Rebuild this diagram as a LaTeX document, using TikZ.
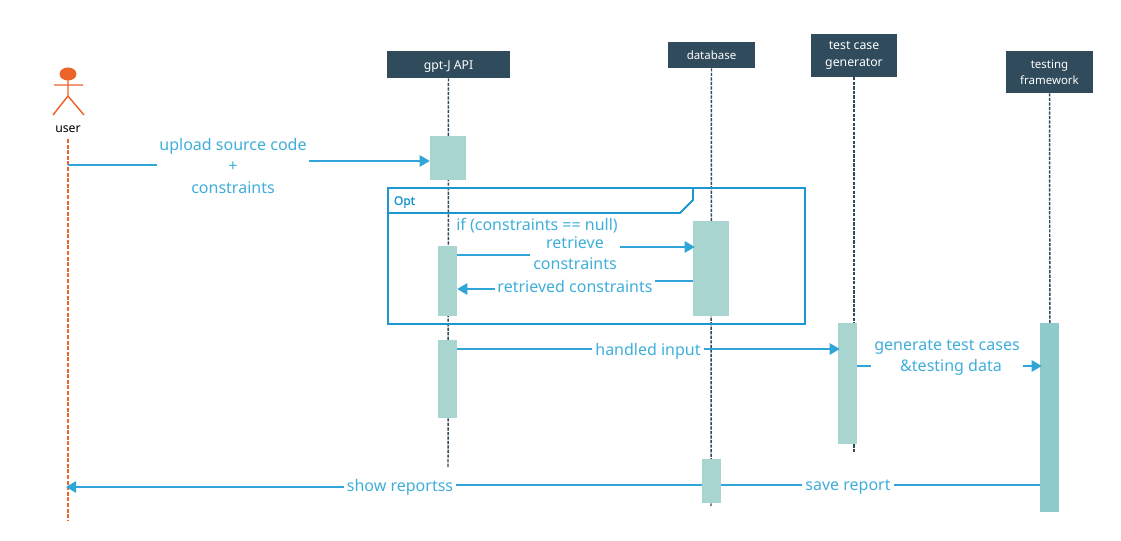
\documentclass[tikz,border=0pt]{standalone}
\usepackage{fontspec}
\setmainfont{Noto Sans}
\newfontfamily\optfont[FakeBold=1.3]{Noto Sans}
\usetikzlibrary{arrows.meta}
\definecolor{headblue}{HTML}{2F4B5C}
\definecolor{barteal}{HTML}{A8D5CF}
\definecolor{bardark}{HTML}{8FCBCB}
\definecolor{msgblue}{HTML}{2FA5D8}
\definecolor{txtblue}{HTML}{3FAEDA}
\definecolor{framblue}{HTML}{1C96CE}
\definecolor{useror}{HTML}{EC6429}
\def\px{0.75pt}
\tikzset{
  head/.style = {fill=headblue, text=white, font=\fontsize{9.2}{12.5}\selectfont, align=center, inner sep=0pt},
  life/.style = {headblue, line width=1.1pt, dash pattern=on 2.4pt off 1pt},
  actbar/.style = {fill=barteal, inner sep=0pt, minimum width=19*\px},
  msg/.style = {msgblue, line width=1.2pt},
  msgto/.style = {msg, -{Triangle[length=7.5pt, width=8.5pt]}},
  lab/.style = {text=txtblue, font=\fontsize{12}{16.1}\selectfont, align=center, inner sep=2pt}
}
\begin{document}
\begin{tikzpicture}[x=\px, y=-\px]
\useasboundingbox (0,0) rectangle (1121,541);
% header boxes
\node[head, minimum width=123*\px, minimum height=27*\px, text depth=0pt] (gptapi) at (448.5,64.5) {\raisebox{-0.7pt}{gpt-J API}};
\node[head, minimum width=87*\px, minimum height=26*\px, font=\fontsize{8.6}{12}\selectfont] (database) at (711.5,55) {\raisebox{-0.7pt}{database}};
\node[head, minimum width=86*\px, minimum height=43*\px] (tcgen) at (854,55.5) {test case\\generator};
\node[head, minimum width=87*\px, minimum height=42*\px, font=\fontsize{8.6}{12}\selectfont] (tframe) at (1049.5,72) {testing\\framework};
\coordinate (gptend) at (448,468);
\coordinate (dbend) at (711,506);
\coordinate (tcend) at (854,452);
\coordinate (tfend) at (1050,400);
% lifelines
\draw[life] (gptapi) -- (gptend);
\draw[life] (database) -- (dbend);
\draw[life] (tcgen) -- (tcend);
\draw[life] (tframe) -- (tfend);
% activation bars
\node[actbar, minimum width=36*\px, minimum height=44*\px] (gptbarA) at (448,158) {};
\node[actbar, minimum height=70*\px] (gptbarB) at (447.5,281) {};
\node[actbar, minimum height=78*\px] (gptbarC) at (447.5,379) {};
\node[actbar, minimum width=36*\px, minimum height=95*\px] (dbbarA) at (711,268.5) {};
\node[actbar, minimum height=44*\px] (dbbarB) at (711.5,481) {};
\node[actbar, minimum height=121*\px] (tcbar) at (847.5,383.5) {};
\node[actbar, fill=bardark, minimum height=189*\px] (tfbar) at (1049.5,417.5) {};
% user
\draw[useror, line width=1.1pt] (54,85) -- (83,85) (68,80) -- (68,96) (53,115) -- (68,96) -- (84,115);
\fill[useror] (68,74) ellipse [x radius=8.5, y radius=6.5];
\node[font=\fontsize{9.2}{12}\selectfont, inner sep=0pt] (user) at (68,129) {user};
\coordinate (userend) at (68,520);
\draw[useror, line width=1.1pt, dash pattern=on 3pt off 1.2pt] (user.south |- 0,139) -- (userend);
% opt frame
\node[draw=framblue, line width=1.4pt, minimum width=417*\px, minimum height=136*\px, inner sep=0pt] (optframe) at (596.5,256) {};
\node[text=framblue, font=\optfont\fontsize{9}{11}\selectfont, inner sep=0pt] (optlab) at (404.5,202) {Opt};
\draw[framblue, line width=1.4pt] (optframe.west |- 0,213) -- (680,213) -- (693,200) -- (693,188);
% labels
\node[lab] (upload) at (233,166) {upload source code\\+\\constraints};
\node[lab] (ifnull) at (537,225.5) {if (constraints == null)};
\node[lab] (retrieve) at (575,253) {retrieve\\constraints};
\node[lab] (retrieved) at (575,286.5) {retrieved constraints};
\node[lab] (handled) at (648,351) {handled input};
\node[lab] (gencases) at (947,357.5) {generate test cases\\\hspace*{6pt}\&testing data};
\node[lab] (show) at (400,487) {show reportss};
\node[lab] (save) at (848,487.5) {save report};
% messages
\draw[msg] (user.south |- 0,165.2) -- (upload.west |- 0,165.2);
\draw[msgto] (upload.east |- 0,161) -- (gptbarA.west |- 0,161);
\draw[msg] (gptbarB.east |- 0,255) -- (retrieve.west |- 0,255);
\draw[msgto] (retrieve.east |- 0,247) -- ([xshift=1.5pt]dbbarA.west |- 0,247);
\draw[msg] (dbbarA.west |- 0,281) -- (retrieved.east |- 0,281);
\draw[msgto] (retrieved.west |- 0,289) -- (gptbarB.east |- 0,289);
\draw[msg] (gptbarC.east |- 0,349) -- (handled.west |- 0,349);
\draw[msgto] (handled.east |- 0,349) -- ([xshift=1.5pt]tcbar.west |- 0,349);
\draw[msg] (tcbar.east |- 0,366) -- (gencases.west |- 0,366);
\draw[msgto] (gencases.east |- 0,366) -- ([xshift=1.5pt]tfbar.west |- 0,366);
\draw[msg] (tfbar.west |- 0,485) -- (save.east |- 0,485);
\draw[msg] (save.west |- 0,485) -- (dbbarB.east |- 0,485);
\draw[msg] (dbbarB.west |- 0,485) -- (show.east |- 0,485);
\draw[msgto] (show.west |- 0,487) -- ([xshift=-1.5pt]user.south |- 0,487);
\end{tikzpicture}
\end{document}
